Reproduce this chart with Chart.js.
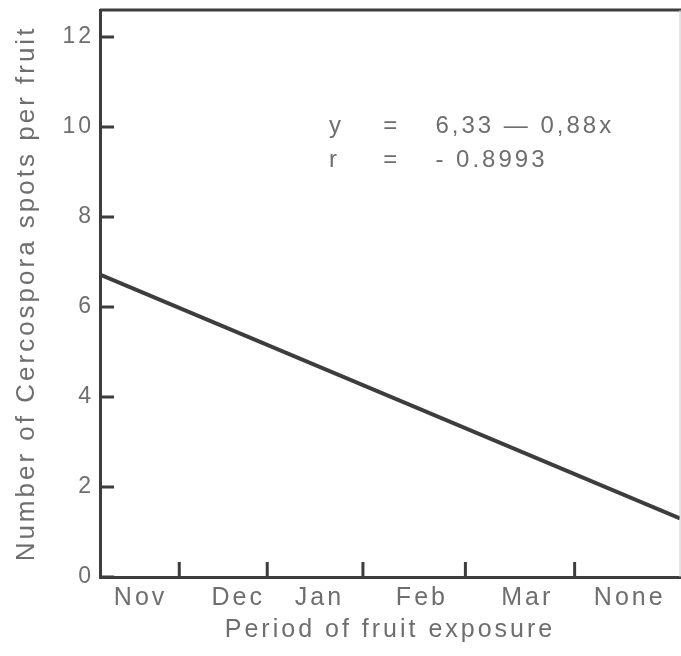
<!DOCTYPE html>
<html lang="en">
<head>
    <meta charset="UTF-8">
    <title>Cercospora spots per fruit</title>
    <script src="https://cdn.jsdelivr.net/npm/chart.js"></script>
    <style>
        html, body { margin: 0; padding: 0; background: #fff; }
        #wrap { width: 681px; height: 656px; }
    </style>
</head>
<body>
<div id="wrap"><canvas id="chart"></canvas></div>
<script>
    // categories along the x axis (placed between the tick marks)
    const periods = ['Nov', 'Dec', 'Jan', 'Feb', 'Mar', 'None'];
    const periodLabelPos = [0.42, 1.43, 2.27, 3.33, 4.42, 5.48];
    const periodBounds = [0.82, 1.73, 2.72, 3.78, 4.91];

    const yTickValues = [0, 2, 4, 6, 8, 10, 12];

    // regression line
    const lineX = [0, 6];
    const lineY = [6.72, 1.3];

    const equationLines = [
        ['y', '=', '6,33 \u2014 0,88x'],
        ['r', '=', '- 0.8993']
    ];

    const ink = '#3d3d3d';
    const textGrey = '#6e6e6e';
    const family = '"Liberation Sans", Arial, sans-serif';

    const framePlugin = {
        id: 'frame',
        beforeDraw(chart) {
            chart.ctx.letterSpacing = '3px';
        },
        afterDraw(chart) {
            const ctx = chart.ctx;
            const a = chart.chartArea;
            const xs = chart.scales.x;
            const ys = chart.scales.y;
            ctx.save();
            // top border and faint right border
            ctx.strokeStyle = ink;
            ctx.lineWidth = 3;
            ctx.beginPath();
            ctx.moveTo(a.left, a.top);
            ctx.lineTo(chart.width, a.top);
            ctx.stroke();
            ctx.strokeStyle = '#c8c8c8';
            ctx.lineWidth = 1;
            ctx.beginPath();
            ctx.moveTo(a.right, a.top);
            ctx.lineTo(a.right, a.bottom);
            ctx.stroke();
            // inward tick marks
            ctx.strokeStyle = ink;
            ctx.lineWidth = 3;
            ctx.beginPath();
            periodBounds.forEach(v => {
                const px = xs.getPixelForValue(v);
                ctx.moveTo(px, a.bottom);
                ctx.lineTo(px, a.bottom - 15);
            });
            yTickValues.forEach(v => {
                const py = ys.getPixelForValue(v);
                ctx.moveTo(a.left, py);
                ctx.lineTo(a.left + 14, py);
            });
            ctx.stroke();
            // equation text
            ctx.fillStyle = textGrey;
            ctx.font = '24px ' + family;
            ctx.letterSpacing = '3px';
            ctx.textBaseline = 'alphabetic';
            ctx.textAlign = 'left';
            const cols = [xs.getPixelForValue(2.37), xs.getPixelForValue(2.93), xs.getPixelForValue(3.47)];
            equationLines.forEach((row, i) => {
                const y = 133 + i * 34;
                row.forEach((t, j) => ctx.fillText(t, cols[j], y));
            });
            ctx.restore();
        }
    };

    new Chart(document.getElementById('chart'), {
        type: 'line',
        data: {
            datasets: [{
                data: lineX.map((x, i) => ({ x: x, y: lineY[i] })),
                borderColor: ink,
                borderWidth: 4,
                pointRadius: 0,
                fill: false
            }]
        },
        options: {
            responsive: true,
            maintainAspectRatio: false,
            animation: false,
            layout: { padding: { top: 10, right: 1, left: 0, bottom: 0 } },
            plugins: { legend: { display: false }, tooltip: { enabled: false } },
            scales: {
                x: {
                    type: 'linear',
                    min: 0,
                    max: 6,
                    afterBuildTicks: s => { s.ticks = periodLabelPos.map(v => ({ value: v })); },
                    afterFit: s => { s.height = 79; s.paddingLeft = 0; s.paddingRight = 0; },
                    grid: { display: false, drawTicks: false },
                    border: { display: true, color: ink, width: 3 },
                    ticks: {
                        autoSkip: false,
                        maxRotation: 0,
                        padding: 6,
                        color: textGrey,
                        font: { family: family, size: 25 },
                        callback: (v, i) => periods[i]
                    },
                    title: {
                        display: true,
                        text: 'Period of fruit exposure',
                        color: textGrey,
                        font: { family: family, size: 25 },
                        padding: 11
                    }
                },
                y: {
                    min: 0,
                    max: 12.6,
                    afterBuildTicks: s => { s.ticks = yTickValues.map(v => ({ value: v })); },
                    afterFit: s => { s.width = 100; s.paddingTop = 0; s.paddingBottom = 0; },
                    grid: { display: false, drawTicks: false },
                    border: { display: true, color: ink, width: 3 },
                    ticks: {
                        padding: 6,
                        color: textGrey,
                        font: { family: family, size: 23 }
                    },
                    title: {
                        display: true,
                        text: 'Number of Cercospora spots per fruit',
                        color: textGrey,
                        font: { family: family, size: 26 },
                        padding: 11
                    }
                }
            }
        },
        plugins: [framePlugin]
    });
</script>
</body>
</html>
